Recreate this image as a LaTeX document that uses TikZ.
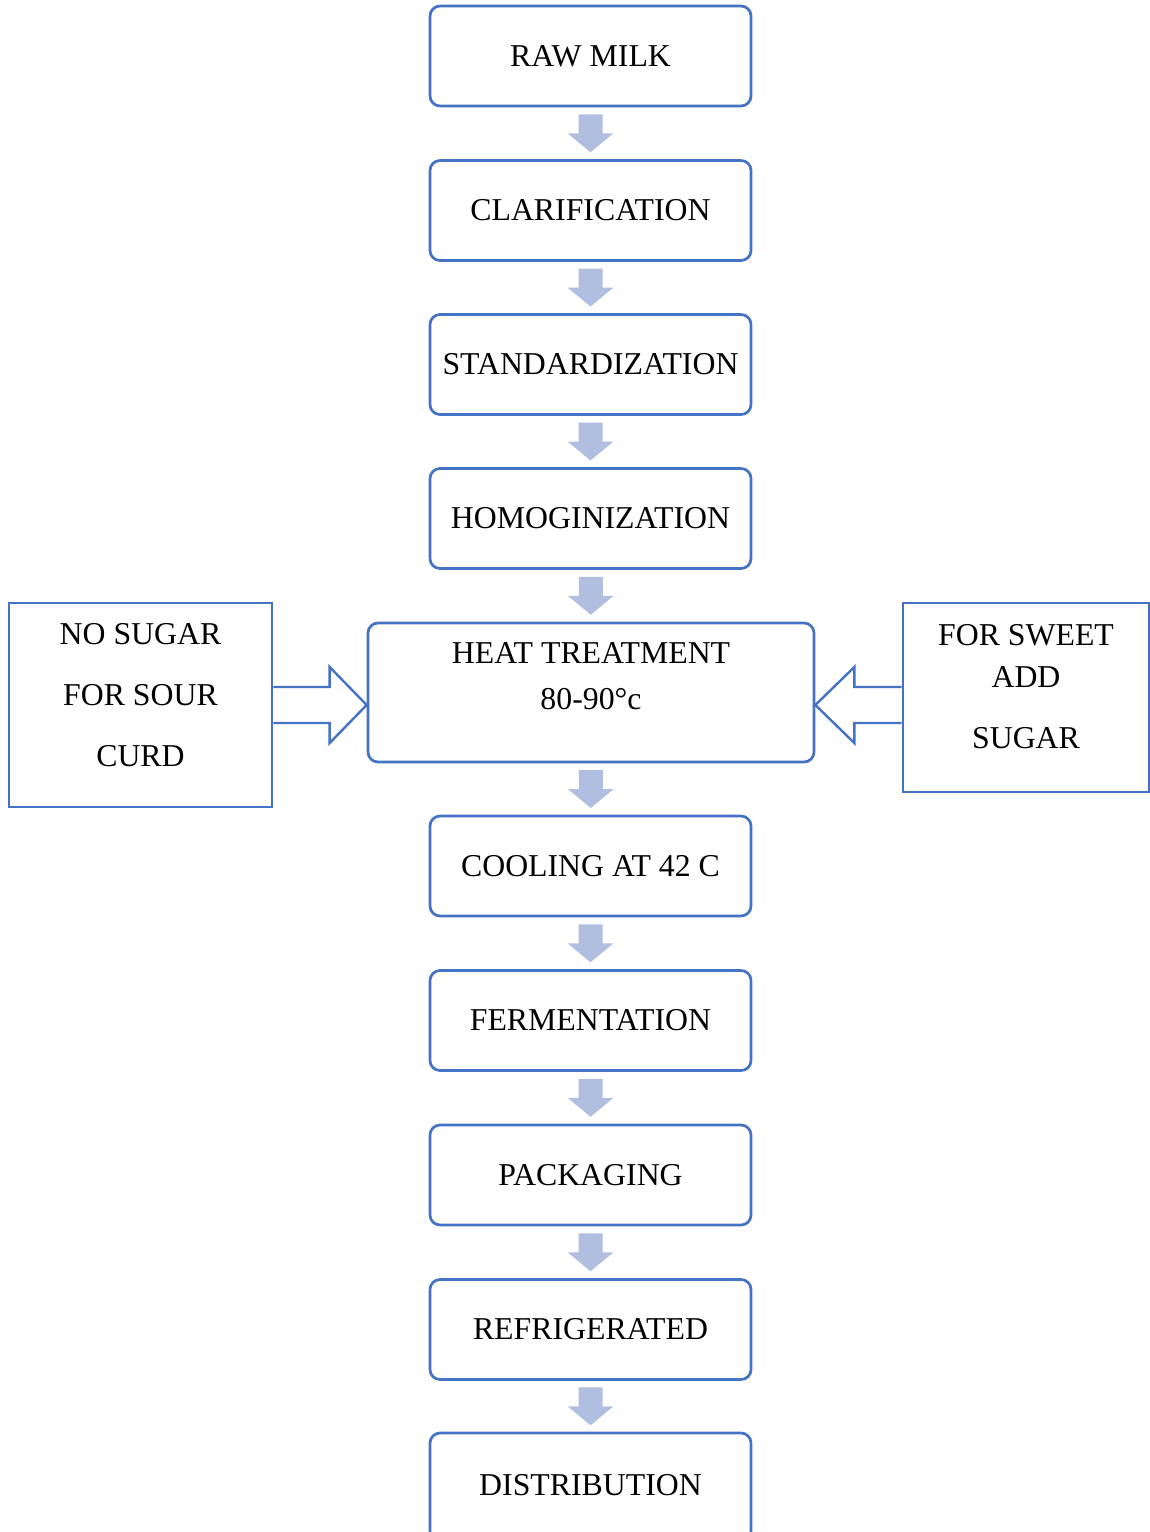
\documentclass[tikz,border=0pt]{standalone}
\usepackage{fontspec}
\setmainfont{Liberation Serif}
\usetikzlibrary{calc}
\definecolor{bord}{HTML}{4472C4}
\definecolor{arrf}{HTML}{B0BEE0}
\newcommand\flowarrow[2]{\fill[arrf, shift={($(#1.south)!0.5!(#2.north)$)}] (-12,-19) -- (12,-19) -- (12,0) -- (23,0) -- (0,19) -- (-23,0) -- (-12,0) -- cycle;}
\begin{document}
\begin{tikzpicture}[x=1pt,y=-1pt, font=\fontsize{31.8}{38}\selectfont,
  box/.style={draw=bord, line width=2.7pt, rounded corners=10pt, minimum width=321pt, minimum height=100pt, inner sep=0pt, fill=white},
  side/.style={draw=bord, line width=2.7pt, inner sep=0pt},
  blockarr/.style={draw=bord, line width=2.4pt, fill=white, line join=miter},
  txt/.style={anchor=base, inner sep=0pt}]
\useasboundingbox (0,0) rectangle (1150,1532);
\node[box] (raw) at (590.5,56) {RAW MILK};
\node[box] (clar) at (590.5,210.5) {CLARIFICATION};
\node[box] (std) at (590.5,364.5) {STANDARDIZATION};
\node[box] (homo) at (590.5,518.5) {HOMOGINIZATION};
\node[box, minimum width=446pt, minimum height=139pt] (heat) at (591,692.5) {};
\node[txt] (heat1) at (591,663) {HEAT TREATMENT};
\node[txt] (heat2) at (591,709) {80-90°c};
\node[box] (cool) at (590.5,866) {COOLING AT 42 C};
\node[box] (ferm) at (590.5,1020.5) {FERMENTATION};
\node[box] (pack) at (590.5,1175) {PACKAGING};
\node[box] (refr) at (590.5,1329.5) {REFRIGERATED};
\node[box, minimum height=108pt] (dist) at (590.5,1487) {};
\node[txt] (distt) at (590.5,1495) {DISTRIBUTION};
% side boxes
\node[side, minimum width=263pt, minimum height=204pt] (lbox) at (140.5,705) {};
\node[txt] (l1) at (140.5,644) {NO SUGAR};
\node[txt] (l2) at (140.5,705) {FOR SOUR};
\node[txt] (l3) at (140.5,766) {CURD};
\node[side, minimum width=246pt, minimum height=189pt] (rbox) at (1026,697.5) {};
\node[txt] (r1) at (1026,645) {FOR SWEET};
\node[txt] (r2) at (1026,687) {ADD};
\node[txt] (r3) at (1026,748) {SUGAR};
% down arrows
\flowarrow{raw}{clar}
\flowarrow{clar}{std}
\flowarrow{std}{homo}
\flowarrow{homo}{heat}
\flowarrow{heat}{cool}
\flowarrow{cool}{ferm}
\flowarrow{ferm}{pack}
\flowarrow{pack}{refr}
\flowarrow{refr}{dist}
% block arrows
\coordinate (ltip) at (heat.west |- lbox.east);
\coordinate (rtip) at (heat.east |- lbox.east);
\coordinate (rst) at (rbox.west |- rtip);
\draw[blockarr] ($(lbox.east)+(0,-18)$) -- ($(ltip)+(-37,-18)$) -- ($(ltip)+(-37,-38)$) -- (ltip) -- ($(ltip)+(-37,38)$) -- ($(ltip)+(-37,18)$) -- ($(lbox.east)+(0,18)$);
\draw[blockarr] ($(rst)+(0,-18)$) -- ($(rtip)+(39,-18)$) -- ($(rtip)+(39,-38)$) -- (rtip) -- ($(rtip)+(39,38)$) -- ($(rtip)+(39,18)$) -- ($(rst)+(0,18)$);
\end{tikzpicture}
\end{document}
